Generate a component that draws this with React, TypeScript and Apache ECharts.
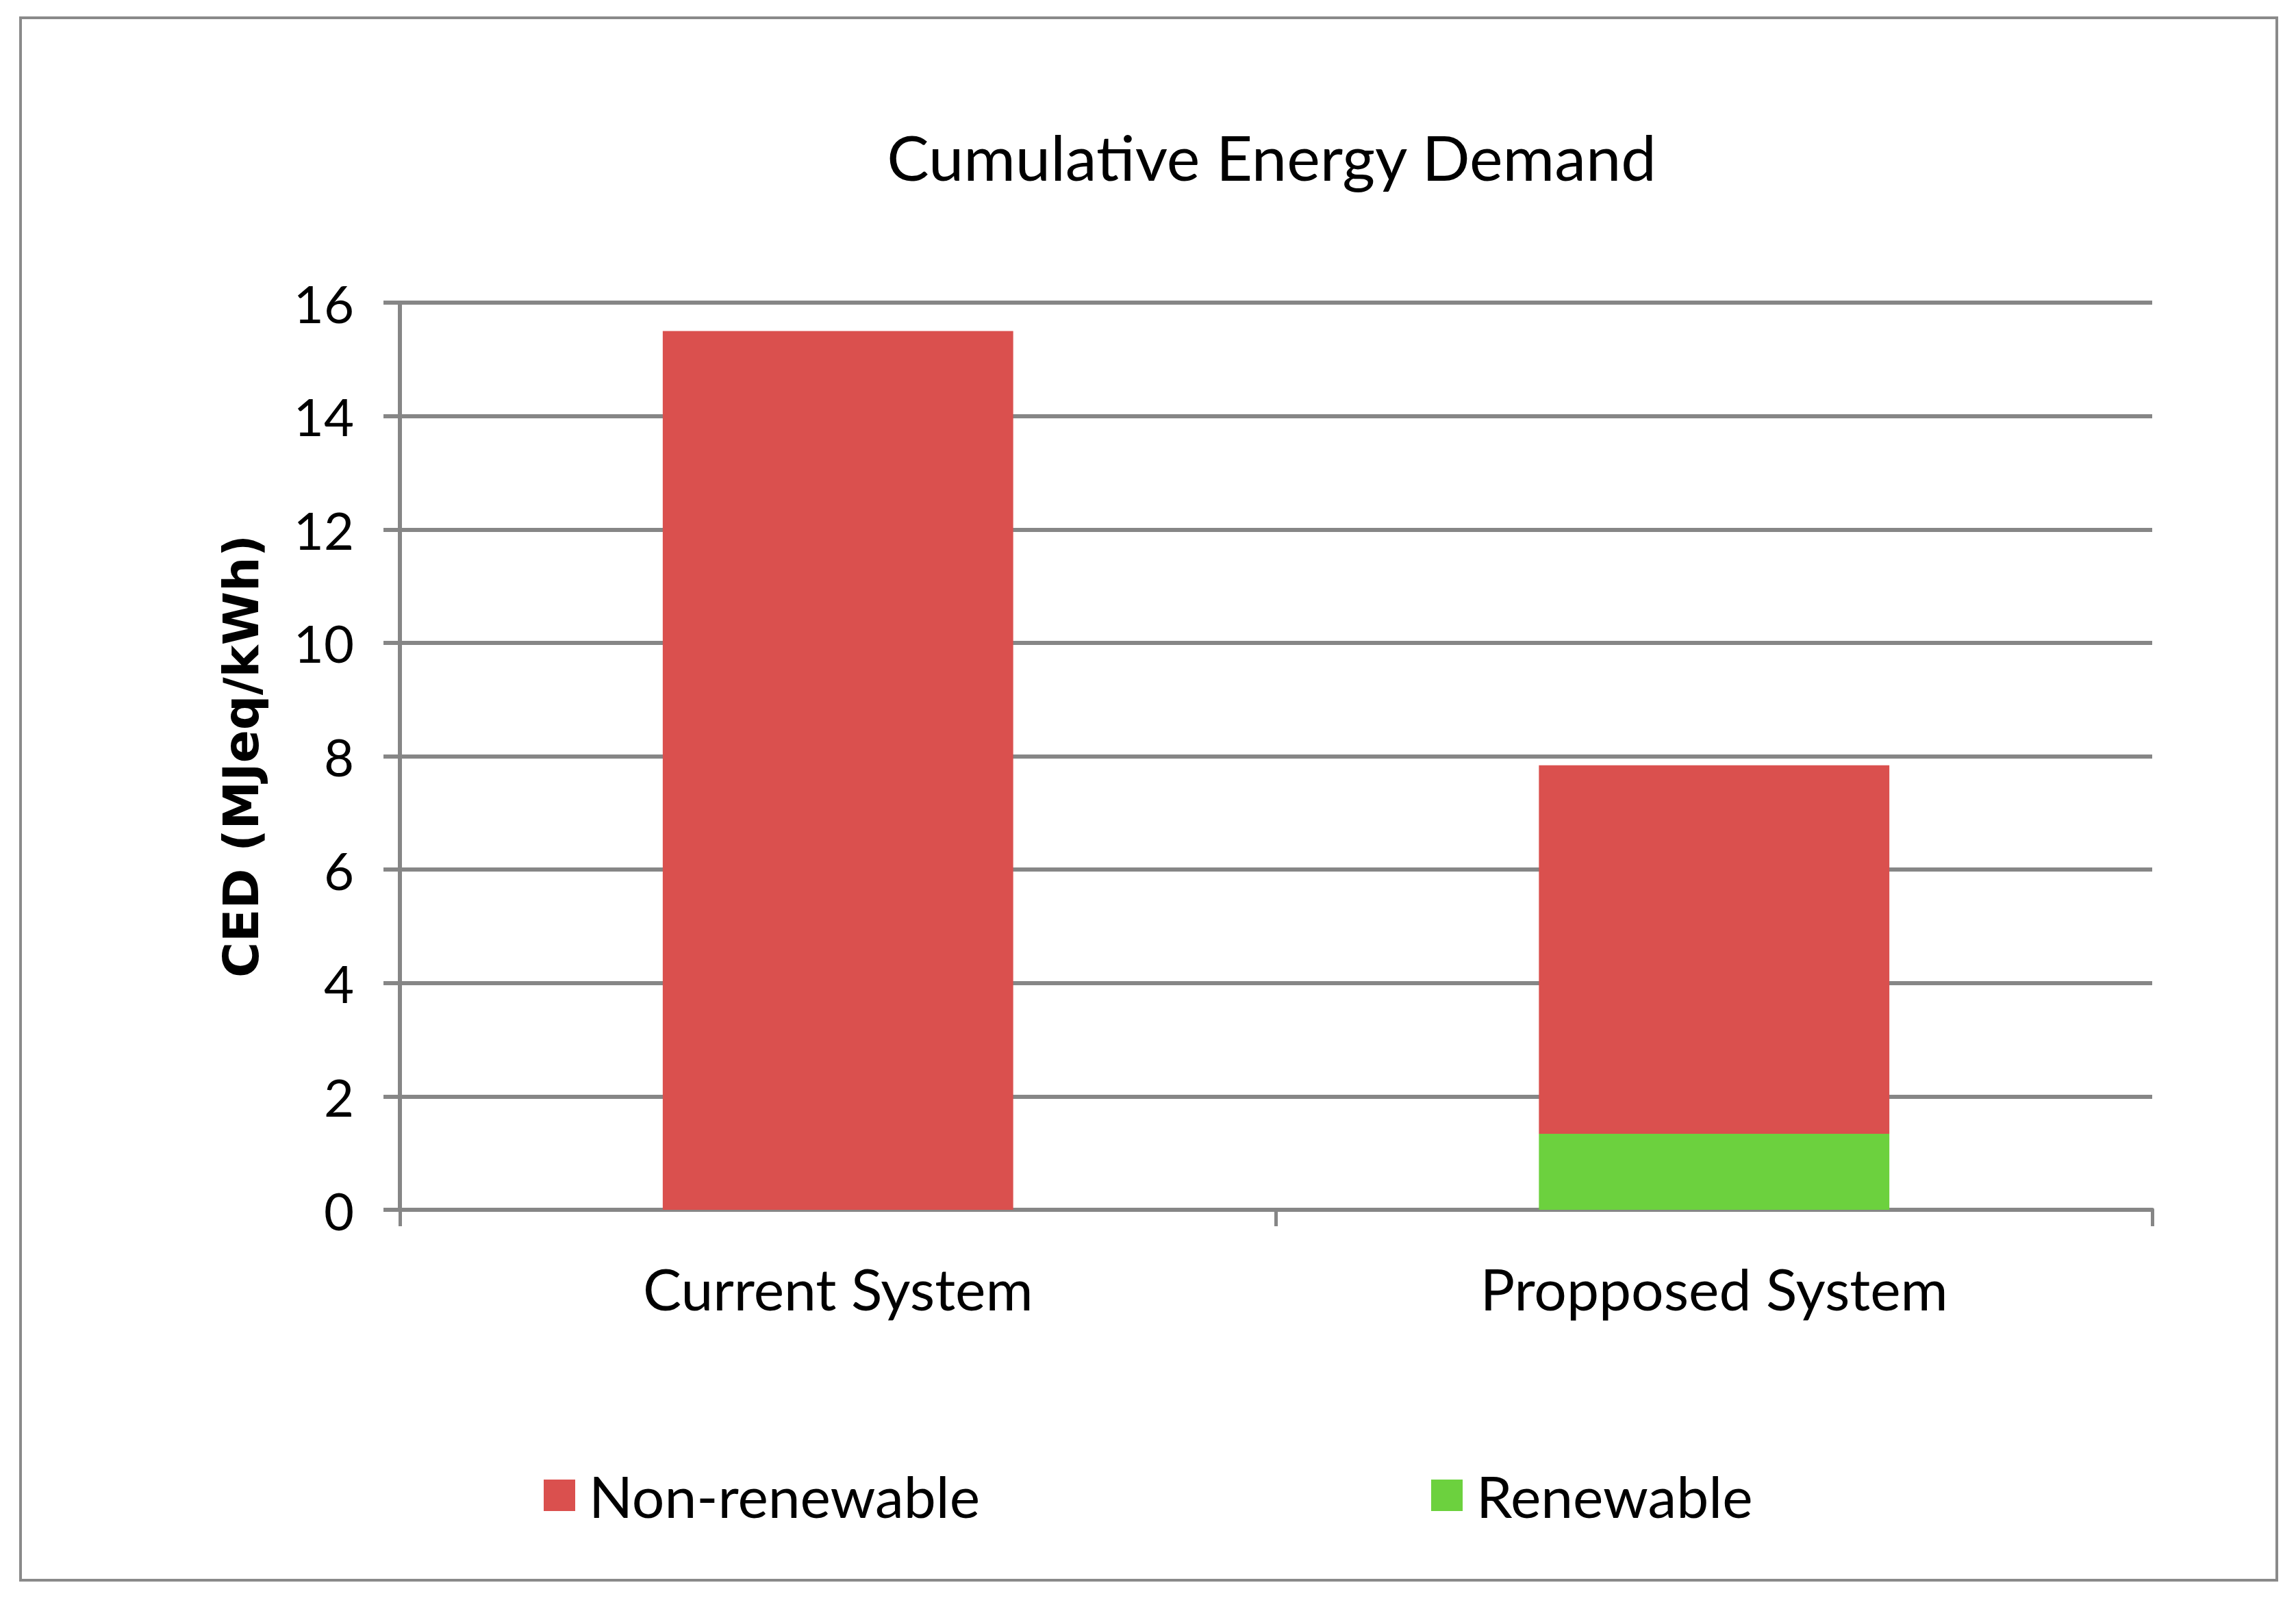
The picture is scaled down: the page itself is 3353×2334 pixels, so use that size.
import React, { useEffect, useRef } from "react";
import * as echarts from "echarts";

const categories = ["Current System", "Propposed System"];
const nonRenewable = [15.5, 6.5];
const renewable = [0, 1.34];
const yTicks = { min: 0, max: 16, interval: 2 };

const FONT = "Lato";

export default function App() {
  const ref = useRef<HTMLDivElement>(null);
  useEffect(() => {
    document.body.style.margin = "0";
    const chart = echarts.init(ref.current!, null, { renderer: "svg" });
    chart.setOption({
      animation: false,
      backgroundColor: "#ffffff",
      title: {
        text: "Cumulative Energy Demand",
        left: 1852,
        top: 177,
        textAlign: "center",
        textStyle: { fontFamily: FONT, fontSize: 92, fontWeight: "normal", color: "#000" },
      },
      graphic: [
        {
          type: "rect",
          shape: { x: 30, y: 26, width: 3295, height: 2282 },
          style: { fill: "none", stroke: "#8a8a8a", lineWidth: 4 },
          silent: true,
        },
      ],
      legend: [
        {
          data: ["Non-renewable"],
          left: 789,
          top: 2137,
          itemWidth: 46,
          itemHeight: 46,
          icon: "rect",
          textStyle: { fontFamily: FONT, fontSize: 84, color: "#000", padding: [0, 0, 0, 15] },
        },
        {
          data: ["Renewable"],
          left: 2085,
          top: 2137,
          itemWidth: 46,
          itemHeight: 46,
          icon: "rect",
          textStyle: { fontFamily: FONT, fontSize: 84, color: "#000", padding: [0, 0, 0, 15] },
        },
      ],
      grid: { left: 584, right: 210, top: 442, bottom: 567 },
      xAxis: {
        type: "category",
        data: categories,
        axisLine: { lineStyle: { color: "#868686", width: 6 } },
        axisTick: { show: true, length: 24, lineStyle: { color: "#868686", width: 5 } },
        axisLabel: { fontFamily: FONT, fontSize: 84, color: "#000", margin: 72 },
      },
      yAxis: {
        type: "value",
        min: yTicks.min,
        max: yTicks.max,
        interval: yTicks.interval,
        name: "CED (MJeq/kWh)",
        nameLocation: "middle",
        nameRotate: 90,
        nameGap: 196,
        nameTextStyle: { fontFamily: "DejaVu Sans", fontSize: 71, fontWeight: "bold", color: "#000" },
        axisLine: { show: true, lineStyle: { color: "#868686", width: 6 } },
        axisTick: { show: true, length: 24, lineStyle: { color: "#868686", width: 6 } },
        axisLabel: { fontFamily: FONT, fontSize: 76, color: "#000", margin: 67 },
        splitLine: { show: true, lineStyle: { color: "#868686", width: 6 } },
      },
      series: [
        {
          name: "Renewable",
          type: "bar",
          stack: "ced",
          data: renewable,
          barWidth: "40%",
          itemStyle: { color: "#6CD13E" },
        },
        {
          name: "Non-renewable",
          type: "bar",
          stack: "ced",
          data: nonRenewable,
          barWidth: "40%",
          itemStyle: { color: "#DA504E" },
        },
      ],
    });
    return () => chart.dispose();
  }, []);
  return (
    <div
      ref={ref}
      style={{ position: "absolute", left: 0, top: 0, width: 3353, height: 2334 }}
    />
  );
}
